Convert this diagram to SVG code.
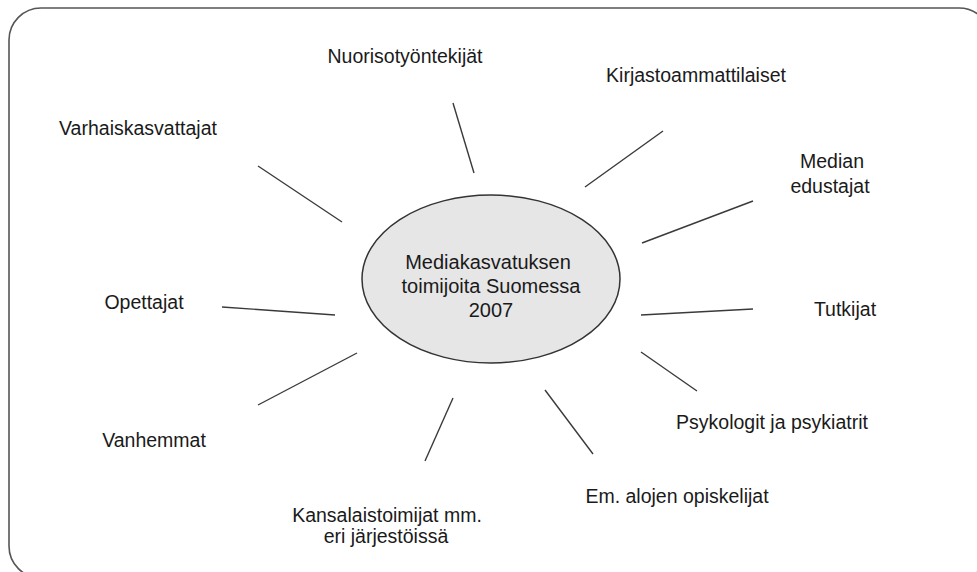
<svg xmlns="http://www.w3.org/2000/svg" width="977" height="572" viewBox="0 0 977 572">
<style>
.lbl{font-family:"Liberation Sans",Arial,sans-serif;font-size:19.5px;fill:#1a1a1a}
.mid{text-anchor:middle}
.con line{stroke:#3a3a3a;stroke-width:1.4;fill:none}
</style>
<rect x="9" y="8" width="982" height="570" rx="32" ry="32" fill="#fff" stroke="#555" stroke-width="1.6"/>
<g id="connectors" class="con">
<line x1="453" y1="103" x2="474" y2="173"/>
<line x1="585" y1="187" x2="663" y2="131"/>
<line x1="258" y1="166" x2="342" y2="222"/>
<line x1="642" y1="243" x2="753" y2="201"/>
<line x1="222" y1="307" x2="335" y2="315"/>
<line x1="641" y1="315" x2="753" y2="309"/>
<line x1="641" y1="352" x2="697" y2="391"/>
<line x1="545" y1="390" x2="593" y2="454"/>
<line x1="453" y1="398" x2="425" y2="461"/>
<line x1="357" y1="353" x2="258" y2="405"/>
</g>
<g id="center">
<ellipse cx="491" cy="279" rx="129" ry="84" fill="#e6e6e6" stroke="#333" stroke-width="1.5"/>
<text class="lbl mid" x="488" y="269" style="font-size:20px">Mediakasvatuksen</text>
<text class="lbl mid" x="491" y="293" style="font-size:20px">toimijoita Suomessa</text>
<text class="lbl mid" x="491" y="317" style="font-size:20px">2007</text>
</g>
<g id="nuoriso"><text class="lbl mid" x="405" y="63">Nuorisotyöntekijät</text></g>
<g id="kirjasto"><text class="lbl mid" x="696" y="82">Kirjastoammattilaiset</text></g>
<g id="varhais"><text class="lbl mid" x="138" y="135">Varhaiskasvattajat</text></g>
<g id="median"><text class="lbl mid" x="832" y="168">Median</text><text class="lbl mid" x="830" y="193">edustajat</text></g>
<g id="opettajat"><text class="lbl mid" x="144" y="309">Opettajat</text></g>
<g id="tutkijat"><text class="lbl mid" x="845" y="316">Tutkijat</text></g>
<g id="psykologit"><text class="lbl mid" x="772" y="429">Psykologit ja psykiatrit</text></g>
<g id="vanhemmat"><text class="lbl mid" x="154" y="447">Vanhemmat</text></g>
<g id="opiskelijat"><text class="lbl mid" x="677" y="503">Em. alojen opiskelijat</text></g>
<g id="kansalais"><text class="lbl mid" x="387" y="522">Kansalaistoimijat mm.</text><text class="lbl mid" x="386" y="543">eri järjestöissä</text></g>
</svg>
